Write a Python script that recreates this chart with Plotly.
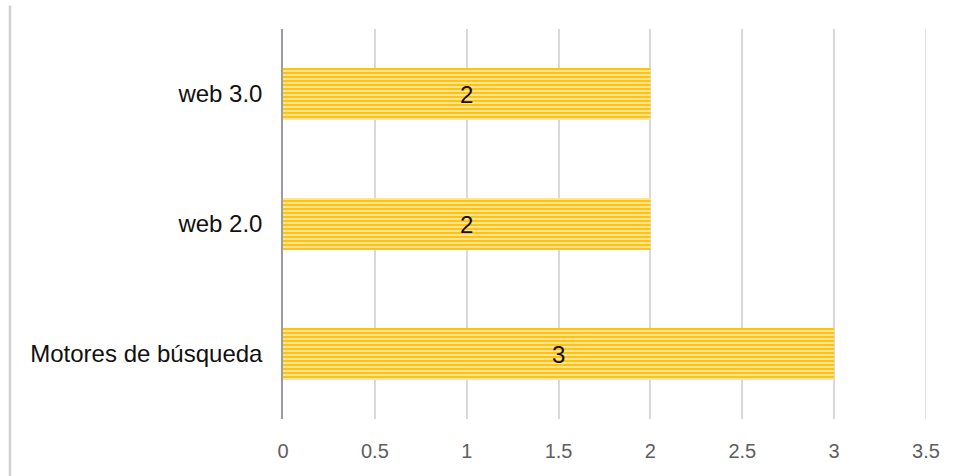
import plotly.graph_objects as go

categories = ["Motores de búsqueda", "web 2.0", "web 3.0"]
values = [3, 2, 2]
x_ticks = [0, 0.5, 1, 1.5, 2, 2.5, 3, 3.5]
x_tick_labels = ["0", "0.5", "1", "1.5", "2", "2.5", "3", "3.5"]

fig = go.Figure()
fig.add_trace(go.Bar(
    y=categories,
    x=values,
    orientation="h",
    width=0.4,
    text=[str(v) for v in values],
    textposition="inside",
    insidetextanchor="middle",
    textfont=dict(family="Liberation Sans, Arial", size=24, color="#111111"),
    marker=dict(
        color="#FFC000",
        line=dict(width=0),
        pattern=dict(shape="-", fgcolor="#FFEDB5", bgcolor="#FFC20F",
                     size=4, solidity=0.4, fillmode="replace"),
    ),
    hoverinfo="skip",
))

fig.update_layout(
    width=960, height=476,
    margin=dict(l=283, r=34, t=29, b=57),
    paper_bgcolor="white",
    plot_bgcolor="white",
    showlegend=False,
    bargap=0.6,
    uniformtext=dict(minsize=10, mode="show"),
    xaxis=dict(
        range=[0, 3.5],
        tickvals=x_ticks,
        ticktext=x_tick_labels,
        showgrid=True,
        gridcolor="#D9D9D9",
        gridwidth=1.5,
        zeroline=False,
        showline=False,
        ticks="outside",
        ticklen=14,
        tickcolor="rgba(0,0,0,0)",
        tickfont=dict(family="Liberation Sans, Arial", size=20, color="#5E5E5E"),
    ),
    yaxis=dict(
        range=[-0.5, 2.5],
        showgrid=False,
        zeroline=False,
        showline=True,
        linecolor="#9A9AAA",
        linewidth=1.5,
        ticks="outside",
        ticklen=14,
        tickcolor="rgba(0,0,0,0)",
        tickfont=dict(family="Liberation Sans, Arial", size=24, color="#111111"),
    ),
    shapes=[
        dict(type="line", xref="paper", yref="paper",
             x0=(10 - 283) / 643, x1=(10 - 283) / 643, y0=-0.15, y1=1.06,
             line=dict(color="#D0D0D0", width=2.5)),
        dict(type="line", xref="x", yref="paper",
             x0=3.5, x1=3.5, y0=0, y1=1,
             line=dict(color="#D9D9D9", width=1.5)),
    ],
)

fig.write_html("out.html")
